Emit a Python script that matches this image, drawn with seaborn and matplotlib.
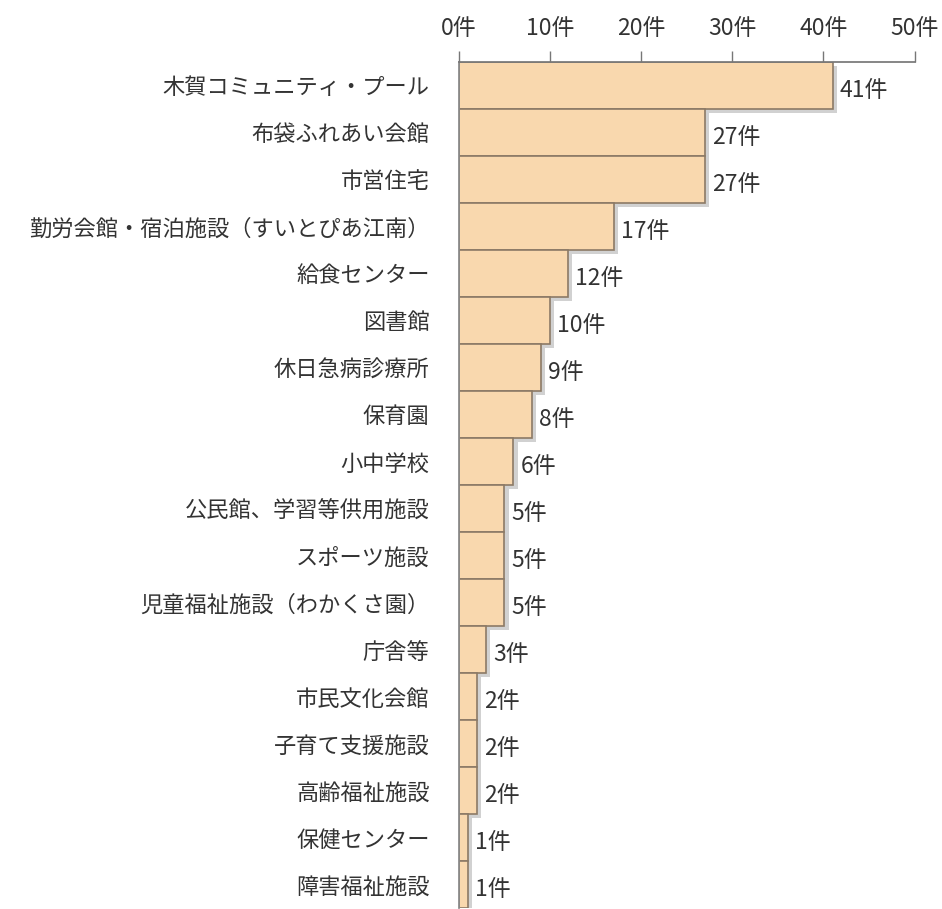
import pandas as pd
import matplotlib.pyplot as plt
import matplotlib.patheffects as pe
import seaborn as sns

sns.set_theme(style="white")
plt.rcParams['font.family'] = ['Noto Sans CJK JP', 'DejaVu Sans']

# data
facilities = [
    "木賀コミュニティ・プール", "布袋ふれあい会館", "市営住宅",
    "勤労会館・宿泊施設（すいとぴあ江南）", "給食センター", "図書館",
    "休日急病診療所", "保育園", "小中学校", "公民館、学習等供用施設",
    "スポーツ施設", "児童福祉施設（わかくさ園）", "庁舎等", "市民文化会館",
    "子育て支援施設", "高齢福祉施設", "保健センター", "障害福祉施設",
]
counts = [41, 27, 27, 17, 12, 10, 9, 8, 6, 5, 5, 5, 3, 2, 2, 2, 1, 1]
x_ticks = [0, 10, 20, 30, 40, 50]

df = pd.DataFrame({"facility": facilities, "count": counts})

fig = plt.figure(figsize=(9.42, 9.09), dpi=100)
ax = fig.add_axes([0.487, 0.001, 0.484, 0.931])

sns.barplot(data=df, x="count", y="facility", orient="h", width=1.0,
            color="#F9D8AE", edgecolor="#8C7A66", linewidth=1.2,
            saturation=1, ax=ax)

for p in ax.patches:
    p.set_path_effects([pe.SimplePatchShadow(offset=(3, -3), shadow_rgbFace="#9a9a9a", alpha=0.45),
                        pe.Normal()])

# value labels
for i, v in enumerate(counts):
    ax.text(v + 0.75, i + 0.1, f"{v}件", va="center", ha="left",
            fontsize=16.5, color="#333333")

ax.set_xlim(0, 50)
ax.set_ylim(len(counts) - 0.5, -0.5)
ax.set_xticks(x_ticks)
ax.set_xticklabels([f"{t}件" for t in x_ticks])
ax.xaxis.tick_top()
ax.tick_params(axis="x", direction="out", length=8, width=1, color="#777777",
               labelsize=16.5, labelcolor="#333333", pad=8, top=True, bottom=False)
ax.tick_params(axis="y", length=0, labelsize=16, labelcolor="#333333", pad=21)
ax.set_xlabel("")
ax.set_ylabel("")

for s in ["right", "bottom"]:
    ax.spines[s].set_visible(False)
ax.spines["top"].set_color("#777777")
ax.spines["left"].set_color("#888888")

fig.savefig("out.png", dpi=100)
